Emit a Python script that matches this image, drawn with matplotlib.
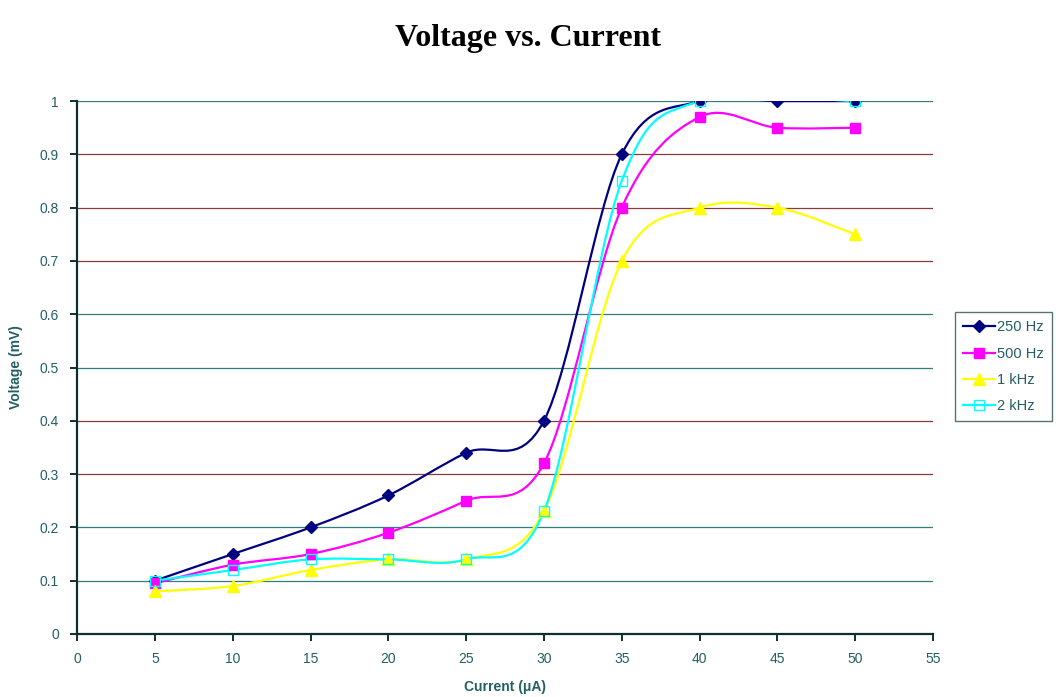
import numpy as np
import matplotlib.pyplot as plt
from matplotlib.path import Path
from matplotlib.patches import PathPatch
from matplotlib.lines import Line2D

# data
current = [5, 10, 15, 20, 25, 30, 35, 40, 45, 50]
v_250 = [0.10, 0.15, 0.20, 0.26, 0.34, 0.40, 0.90, 1.00, 1.00, 1.00]
v_500 = [0.095, 0.13, 0.15, 0.19, 0.25, 0.32, 0.80, 0.97, 0.95, 0.95]
v_1k = [0.08, 0.09, 0.12, 0.14, 0.14, 0.23, 0.70, 0.80, 0.80, 0.75]
v_2k = [0.10, 0.12, 0.14, 0.14, 0.14, 0.23, 0.85, 1.00, None, 1.00]

series = [
    ('250 Hz', v_250, '#000080', 'D', '#000080', 6),
    ('500 Hz', v_500, '#ff00ff', 's', '#ff00ff', 7),
    ('1 kHz', v_1k, '#ffff00', '^', '#ffff00', 8),
    ('2 kHz', v_2k, '#00ffff', 's', 'none', 7),
]

text_col = '#235f63'


def smooth_path(xs, ys):
    # Excel-like smoothed line: cubic bezier through the points
    pts = np.array([(x, y) for x, y in zip(xs, ys) if y is not None], dtype=float)
    verts = [pts[0]]
    codes = [Path.MOVETO]
    n = len(pts)
    for i in range(n - 1):
        p0 = pts[i - 1] if i > 0 else pts[i]
        p1 = pts[i]
        p2 = pts[i + 1]
        p3 = pts[i + 2] if i + 2 < n else pts[i + 1]
        c1 = p1 + (p2 - p0) / 6.0
        c2 = p2 - (p3 - p1) / 6.0
        verts += [c1, c2, p2]
        codes += [Path.CURVE4] * 3
    return Path(verts, codes), pts


fig = plt.figure(figsize=(10.56, 6.97), dpi=100)
ax = fig.add_axes([0.073, 0.0904, 0.8105, 0.7646])

# gridlines, alternating colour tone like the original scan
grid_cols = {0.1: '#2f7f7f', 0.2: '#2f7f7f', 0.3: '#8a3a3a', 0.4: '#8a3a3a',
             0.5: '#2f7f7f', 0.6: '#2f7f7f', 0.7: '#8a3a3a', 0.8: '#8a3a3a',
             0.9: '#8a3a3a', 1.0: '#2f7f7f'}
for yv, c in grid_cols.items():
    ax.axhline(yv, color=c, lw=0.9, zorder=1)

handles = []
for label, ys, col, mk, mfc, ms in series:
    path, pts = smooth_path(current, ys)
    ax.add_patch(PathPatch(path, facecolor='none', edgecolor=col, lw=1.6, zorder=3))
    ax.plot(pts[:, 0], pts[:, 1], linestyle='none', marker=mk, markersize=ms,
            markerfacecolor=mfc, markeredgecolor=col, markeredgewidth=1.0, zorder=4)
    handles.append(Line2D([], [], color=col, lw=1.6, marker=mk, markersize=ms,
                          markerfacecolor=mfc, markeredgecolor=col, label=label))

ax.set_xlim(0, 55)
ax.set_ylim(0, 1)
ax.set_xticks(range(0, 56, 5))
ax.set_yticks([0, 0.1, 0.2, 0.3, 0.4, 0.5, 0.6, 0.7, 0.8, 0.9, 1])
ax.set_yticklabels(['0', '0.1', '0.2', '0.3', '0.4', '0.5', '0.6', '0.7', '0.8', '0.9', '1'])

for s in ['top', 'right']:
    ax.spines[s].set_visible(False)
for s in ['left', 'bottom']:
    ax.spines[s].set_color('#0f2f2f')
    ax.spines[s].set_linewidth(1.6)
    ax.spines[s].set_zorder(5)
ax.tick_params(direction='out', length=5, width=1.4, color='#0f2f2f',
               labelcolor=text_col, labelsize=10, pad=8)
for lab in ax.get_xticklabels() + ax.get_yticklabels():
    lab.set_family('Liberation Sans')

ax.set_xlabel('Current (\u03bcA)', fontsize=10, fontweight='bold', color=text_col,
              family='Liberation Sans', labelpad=10)
ax.set_ylabel('Voltage (mV)', fontsize=10, fontweight='bold', color=text_col,
              family='Liberation Sans', labelpad=12)

fig.text(0.5, 0.945, 'Voltage vs. Current', ha='center', va='center',
         fontsize=23, fontweight='bold', family='Liberation Serif')

leg = fig.legend(handles=handles, loc='upper left', bbox_to_anchor=(0.904, 0.552),
                 borderaxespad=0, frameon=True, fancybox=False, edgecolor='#2f4f4f',
                 handlelength=2.2, handletextpad=0.15, borderpad=0.55, labelspacing=0.85,
                 prop={'family': 'Liberation Sans', 'size': 10.5})
for t in leg.get_texts():
    t.set_color(text_col)

fig.savefig('out.png', dpi=100)
